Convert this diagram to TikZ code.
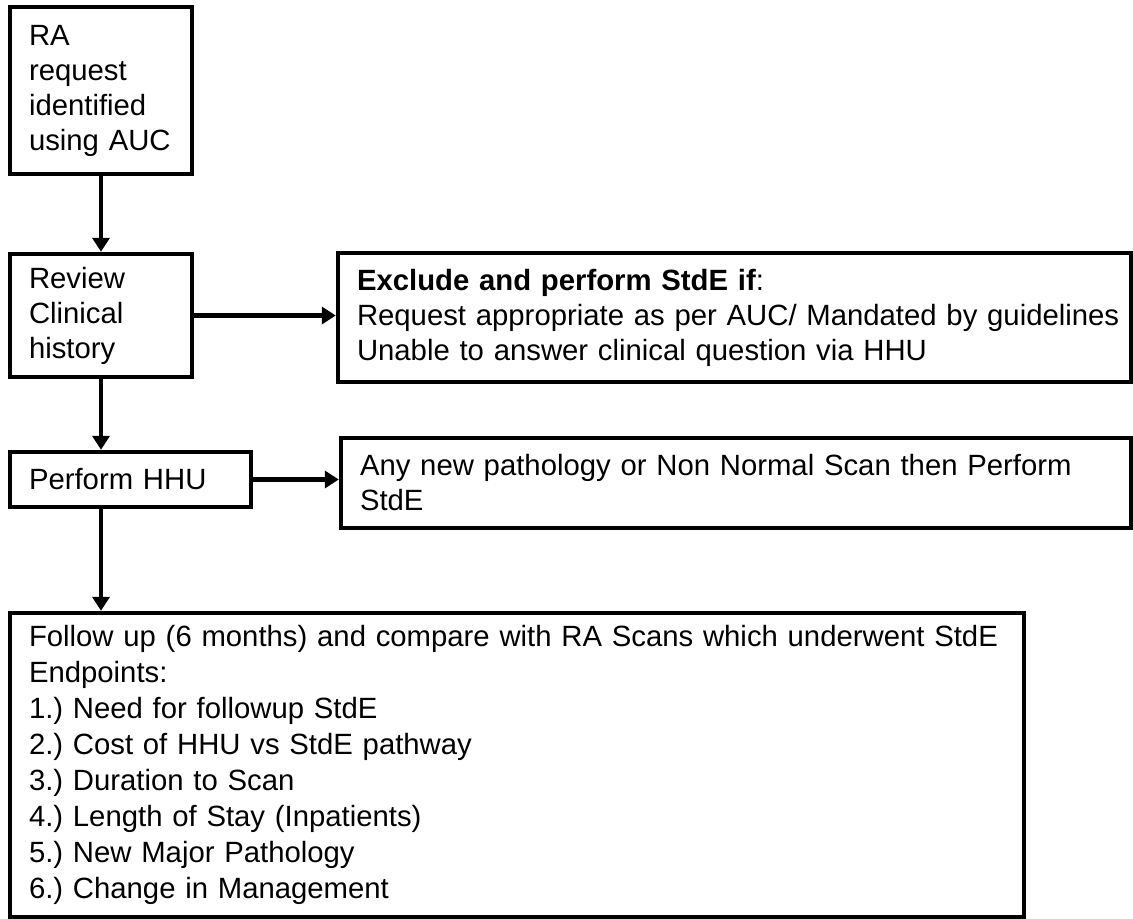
\documentclass[tikz,border=0pt]{standalone}
\usepackage{fontspec}
\setmainfont{Liberation Sans}
\usetikzlibrary{arrows.meta,calc}
\frenchspacing
\begin{document}
\begin{tikzpicture}[x=1bp,y=-1bp,
  box/.style={draw, line width=4.5bp, outer sep=0pt, anchor=north west, inner xsep=19bp, inner ysep=0pt, align=left, font=\fontsize{29.3bp}{35bp}\selectfont},
  conn/.style={line width=4.2bp, shorten >=2.2bp, -{Triangle[length=14bp,width=17bp]}}]
\fill[white] (0,0) rectangle (1133,919);
\useasboundingbox (0,0) rectangle (1133,919);
\node[box, text width=144bp, minimum height=167bp] (req) at (10,7) {RA\\request\\identified\\\mbox{using AUC}};
\node[box, text width=144bp, minimum height=123bp] (rev) at (10,254) {Review\\Clinical\\history};
\node[box, text width=755bp, minimum height=129bp] (excl) at (338,253) {\textbf{Exclude and perform StdE if}:\\\mbox{Request appropriate as per AUC/ Mandated by guidelines}\\Unable to answer clinical question via HHU};
\node[box, text width=203bp, minimum height=55bp] (hhu) at (10,452) {Perform HHU};
\node[box, text width=752bp, minimum height=90bp] (anyn) at (341,438) {Any new pathology or Non Normal Scan then Perform\\StdE};
\node[box, text width=976bp, minimum height=304bp, font=\fontsize{29.3bp}{36bp}\selectfont] (fu) at (10,613) {\mbox{Follow up (6 months) and compare with RA Scans which underwent StdE}\\Endpoints:\\1.) Need for followup StdE\\2.) Cost of HHU vs StdE pathway\\3.) Duration to Scan\\4.) Length of Stay (Inpatients)\\5.) New Major Pathology\\6.) Change in Management};
\draw[conn] (req.south) -- (rev.north);
\draw[conn] (rev.east) -- (rev.east -| excl.west);
\draw[conn] (rev.south) -- (rev.south |- hhu.north);
\draw[conn] (hhu.east) -- (hhu.east -| anyn.west);
\draw[conn] (rev.south |- hhu.south) -- (rev.south |- fu.north);
\end{tikzpicture}
\end{document}
